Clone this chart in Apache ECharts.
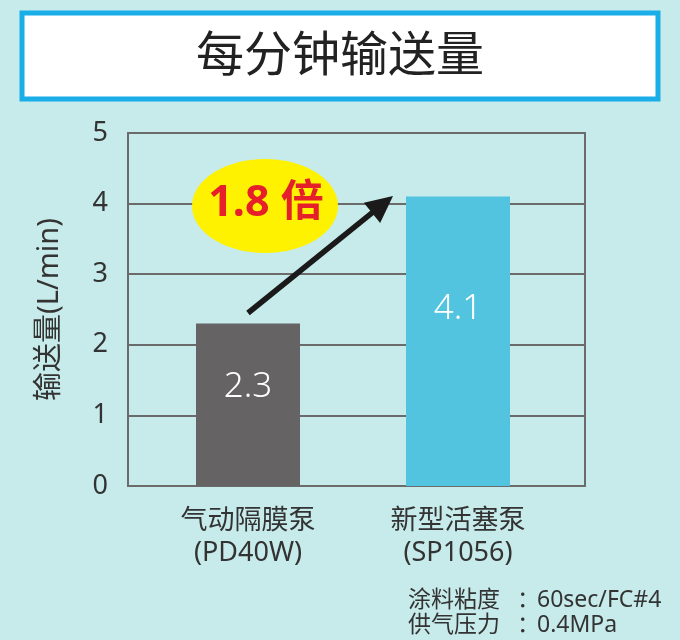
<!DOCTYPE html>
<html>
<head>
<meta charset="utf-8">
<script src="https://cdn.jsdelivr.net/npm/echarts@6/dist/echarts.min.js"></script>
<style>
html,body{margin:0;padding:0;background:#c6ebea;}
#chart{width:680px;height:640px;}
</style>
</head>
<body>
<div id="chart"></div>
<script>
const titleText = '每分钟输送量';
const yAxisName = '输送量(L/min)';
const categories = ['气动隔膜泵\n(PD40W)', '新型活塞泵\n(SP1056)'];
const values = [2.3, 4.1];
const barColors = ['#656363', '#52c4e0'];
const yMin = 0, yMax = 5, yInterval = 1;
const ratioText = '1.8 倍';
const noteLabels = ['涂料粘度', '供气压力'];
const noteValues = ['60sec/FC#4', '0.4MPa'];

const FONT = '"Noto Sans", "Noto Sans CJK SC", sans-serif';
const chart = echarts.init(document.getElementById('chart'));

const arrowStart = [248, 313];
const tip = [393, 196];
const dx = tip[0] - arrowStart[0], dy = tip[1] - arrowStart[1];
const len = Math.sqrt(dx*dx + dy*dy);
const ux = dx/len, uy = dy/len, nx = -uy, ny = ux;
const headLen = 27, headHalf = 13;
const base = [tip[0] - headLen*ux, tip[1] - headLen*uy];

const noteStyle = {fontFamily: FONT, fontSize: 23, fill: '#333', verticalAlign: 'middle'};

chart.setOption({
  backgroundColor: '#c6ebea',
  animation: false,
  grid: [
    {left: 128, right: 95, top: 133, bottom: 154, show: true, borderColor: '#6b6b6b', borderWidth: 2, backgroundColor: 'transparent'},
    {left: 143, right: 117, top: 133, bottom: 154}
  ],
  xAxis: [
    {gridIndex: 0, type: 'category', data: ['', ''], show: false},
    {gridIndex: 1, type: 'category', data: categories,
     axisLine: {show: false}, axisTick: {show: false},
     axisLabel: {fontFamily: FONT, fontSize: 27, color: '#333', lineHeight: 32, margin: 19}}
  ],
  yAxis: [
    {gridIndex: 0, type: 'value', min: yMin, max: yMax, interval: yInterval,
     name: yAxisName, nameLocation: 'middle', nameGap: 64, nameRotate: 90,
     nameTextStyle: {fontFamily: FONT, fontSize: 29, color: '#333'},
     axisLine: {show: true, lineStyle: {color: '#6b6b6b', width: 2}},
     axisTick: {show: false},
     axisLabel: {fontFamily: FONT, fontSize: 27, color: '#333', margin: 20},
     splitLine: {show: true, lineStyle: {color: '#6b6b6b', width: 2}}},
    {gridIndex: 1, type: 'value', min: yMin, max: yMax, interval: yInterval, show: false}
  ],
  series: [{
    type: 'bar', xAxisIndex: 1, yAxisIndex: 1,
    barWidth: 104,
    data: values.map((v, i) => ({value: v, itemStyle: {color: barColors[i]}})),
    label: {show: true, position: ['50%', '39%'], align: 'center', verticalAlign: 'middle',
      fontFamily: FONT, fontSize: 35, fontWeight: 300, color: '#fff',
      formatter: p => p.value.toFixed(1)},
    z: 3
  }],
  graphic: [
    {type: 'rect', shape: {x: 22, y: 13, width: 636, height: 86},
     style: {fill: '#fff', stroke: '#1aaee8', lineWidth: 5}, z: 10},
    {type: 'text', x: 340, y: 57, z: 11,
     style: {text: titleText, fontFamily: FONT, fontSize: 48, fill: '#222', align: 'center', verticalAlign: 'middle'}},
    {type: 'line', shape: {x1: arrowStart[0], y1: arrowStart[1], x2: base[0] + 2*ux, y2: base[1] + 2*uy},
     style: {stroke: '#1a1a1a', lineWidth: 5.5}, z: 20},
    {type: 'polygon', shape: {points: [tip, [base[0] + headHalf*nx, base[1] + headHalf*ny], [base[0] - headHalf*nx, base[1] - headHalf*ny]]},
     style: {fill: '#1a1a1a'}, z: 20},
    {type: 'ellipse', shape: {cx: 265, cy: 206, rx: 73, ry: 47}, style: {fill: '#fff200'}, z: 20},
    {type: 'text', x: 266, y: 204, z: 21,
     style: {text: ratioText, fontFamily: FONT, fontSize: 43, fontWeight: 'bold', fill: '#e5202a', align: 'center', verticalAlign: 'middle'}},
    {type: 'text', x: 408, y: 600, z: 20, style: Object.assign({text: noteLabels[0]}, noteStyle)},
    {type: 'text', x: 517, y: 600, z: 20, style: Object.assign({text: '：'}, noteStyle)},
    {type: 'text', x: 537, y: 600, z: 20, style: Object.assign({text: noteValues[0]}, noteStyle)},
    {type: 'text', x: 408, y: 625, z: 20, style: Object.assign({text: noteLabels[1]}, noteStyle)},
    {type: 'text', x: 517, y: 625, z: 20, style: Object.assign({text: '：'}, noteStyle)},
    {type: 'text', x: 537, y: 625, z: 20, style: Object.assign({text: noteValues[1]}, noteStyle)}
  ]
});
</script>
</body>
</html>
